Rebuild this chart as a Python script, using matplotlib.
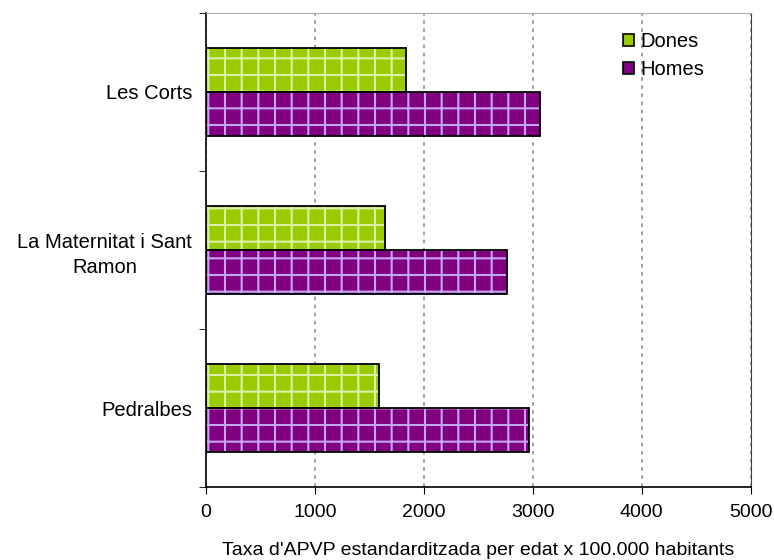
import numpy as np
import matplotlib.pyplot as plt
from matplotlib.patches import Patch

plt.rcParams['font.family'] = ['Liberation Sans', 'DejaVu Sans']
plt.rcParams['hatch.linewidth'] = 1.5

# Taxa d'APVP per barri i sexe
barris = ['Les Corts', 'La Maternitat i Sant\nRamon', 'Pedralbes']
dones = [1835, 1642, 1587]
homes = [3064, 2761, 2963]

y = np.arange(len(barris))[::-1]
h = 0.28

fig = plt.figure(figsize=(7.74, 5.6), dpi=100)
ax = fig.add_axes([0.266, 0.130, 0.704, 0.847])

# farciment amb trama (el color de la trama ve de l'edgecolor)
ax.barh(y + h / 2, dones, height=h, color='#99cc00', edgecolor='#dcf0a8',
        linewidth=0, hatch='+', zorder=3)
ax.barh(y - h / 2, homes, height=h, color='#800080', edgecolor='#c4a6f2',
        linewidth=0, hatch='+', zorder=3)
# contorn negre
ax.barh(y + h / 2, dones, height=h, fill=False, edgecolor='black',
        linewidth=1.3, zorder=4)
ax.barh(y - h / 2, homes, height=h, fill=False, edgecolor='black',
        linewidth=1.3, zorder=4)

ax.set_xlim(0, 5000)
ax.set_ylim(-0.5, 2.5)
ax.set_xticks(np.arange(0, 5001, 1000))
ax.tick_params(axis='x', labelsize=14, direction='out', length=5, pad=7)
ax.set_yticks(y)
ax.set_yticklabels(barris, fontsize=14.5, ha='right', multialignment='center',
                   linespacing=1.4)
ax.tick_params(axis='y', length=0, pad=10)
ax.set_yticks([-0.5, 0.5, 1.5, 2.5], minor=True)
ax.tick_params(axis='y', which='minor', length=5, direction='out')

ax.grid(axis='x', color='#999999', linestyle=(0, (2, 2.5)), linewidth=1.3, zorder=0)
for s in ['left', 'bottom']:
    ax.spines[s].set_linewidth(1.2)
ax.spines['top'].set_color('#aaaaaa')
ax.spines['right'].set_color('#444444')
ax.spines['right'].set_linestyle((0, (3, 1)))

ax.set_xlabel("Taxa d'APVP estandarditzada per edat x 100.000 habitants",
              fontsize=14, labelpad=15)

handles = [Patch(facecolor='#99cc00', edgecolor='black', linewidth=1.2),
           Patch(facecolor='#800080', edgecolor='black', linewidth=1.2)]
ax.legend(handles, ['Dones', 'Homes'], loc='upper left', frameon=False,
          fontsize=14.5, handlelength=0.55, handleheight=0.55, handletextpad=0.3,
          labelspacing=0.45, borderaxespad=0, bbox_to_anchor=(0.751, 0.977))

fig.savefig('out.png', dpi=100)
